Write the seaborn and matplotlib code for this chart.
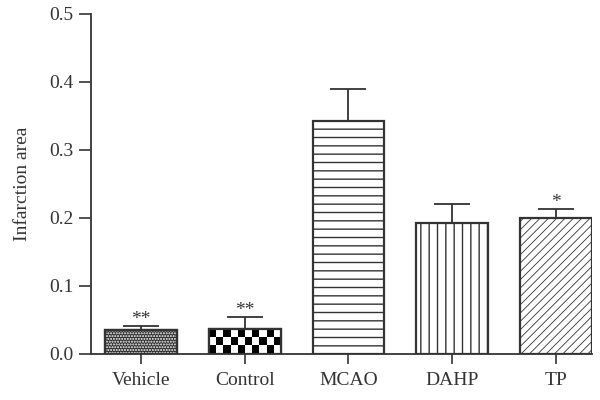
import numpy as np
import pandas as pd
import matplotlib
matplotlib.use("Agg")
import matplotlib.pyplot as plt
from matplotlib.patches import Rectangle
import seaborn as sns

# values
groups = ["Vehicle", "Control", "MCAO", "DAHP", "TP"]
means = [0.036, 0.037, 0.343, 0.193, 0.200]
sems = [0.005, 0.017, 0.047, 0.028, 0.013]
stars = ["**", "**", "", "", "*"]
yticks = [0.0, 0.1, 0.2, 0.3, 0.4, 0.5]

df = pd.DataFrame({"group": groups, "area": means})

sns.set_style("ticks")
plt.rcParams["font.family"] = ["Liberation Serif", "DejaVu Serif"]
plt.rcParams["hatch.linewidth"] = 1.0

fig = plt.figure(figsize=(6, 4), dpi=100)
ax = fig.add_axes([0.152, 0.115, 0.835, 0.85])

sns.barplot(data=df, x="group", y="area", color="white", width=0.69,
            edgecolor="#333333", linewidth=1.6, errorbar=None, ax=ax)

hatches = [None, None, "--", "||", "////"]
bars = ax.patches[:len(groups)]
for bar, h in zip(bars, hatches):
    bar.set_zorder(2)
    if h:
        bar.set_hatch(h)
# thinner diagonal lines for TP
if hasattr(bars[4], "set_hatch_linewidth"):
    bars[4].set_hatch_linewidth(0.6)

# Vehicle: dark stipple
vb = bars[0]
vb.set_facecolor("#2b2b2b")
ax.add_patch(Rectangle(vb.get_xy(), vb.get_width(), vb.get_height(), fill=False,
                       hatch="......", edgecolor="white", linewidth=0, zorder=2.5))
ax.add_patch(Rectangle(vb.get_xy(), vb.get_width(), vb.get_height(), fill=False,
                       edgecolor="#333333", linewidth=1.6, zorder=3))

# Control: checkerboard clipped to the bar
cb = bars[1]
x0, y0 = cb.get_xy()
board = np.indices((3, 10)).sum(axis=0) % 2
im = ax.imshow(board, cmap="gray", extent=(x0, x0 + cb.get_width(), y0, y0 + cb.get_height()),
               aspect="auto", interpolation="nearest", zorder=2.5)
im.set_clip_path(cb)
ax.add_patch(Rectangle(cb.get_xy(), cb.get_width(), cb.get_height(), fill=False,
                       edgecolor="#333333", linewidth=1.6, zorder=3))

xs = np.arange(len(groups))
ax.errorbar(xs, means, yerr=[np.zeros(len(sems)), sems], fmt="none",
            ecolor="#333333", elinewidth=1.3, capsize=13, capthick=1.3, zorder=1)

for x, m, s, st in zip(xs, means, sems, stars):
    if st:
        ax.text(x, m + s - 0.003, st, ha="center", va="bottom", fontsize=14, color="#333333")

ax.set_xlim(-0.48, 4.35)
ax.set_ylim(0, 0.5)
ax.set_yticks(yticks)
ax.set_yticklabels([f"{t:.1f}" for t in yticks])
ax.set_xlabel("")
ax.set_ylabel("Infarction area", fontsize=14, color="#333333", labelpad=13)
ax.tick_params(labelsize=14, colors="#333333", width=1.2)
ax.tick_params(axis="y", length=9, pad=4)
ax.tick_params(axis="x", length=7, pad=6)
for side in ["left", "bottom"]:
    ax.spines[side].set_color("#333333")
    ax.spines[side].set_linewidth(1.3)
sns.despine(ax=ax)

fig.savefig("out.png", dpi=100)
